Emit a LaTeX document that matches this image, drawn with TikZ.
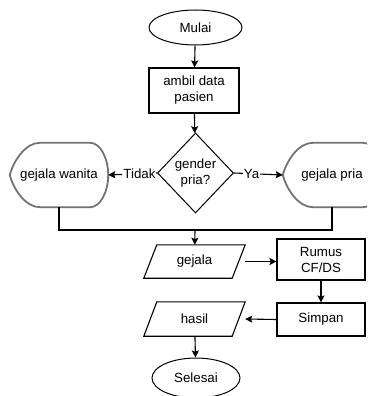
\documentclass[tikz,border=0pt]{standalone}
\usepackage{fontspec}
\setmainfont{Liberation Sans}
\usetikzlibrary{shapes.geometric,arrows.meta,calc}
\tikzset{
  base/.style={font=\fontsize{13.3}{16}\selectfont, align=center, inner sep=0pt},
  term/.style={base, ellipse, draw=black, line width=1pt},
  procbox/.style={base, rectangle, draw=black, line width=1.1pt},
  decis/.style={base, diamond, draw=black, line width=1pt},
  plain/.style={base, rectangle},
  disp/.style={draw=black!55, line width=1.8pt},
  para/.style={draw=black, line width=1.1pt},
  link/.style={draw=black, line width=1.1pt},
  arr/.style={link, -{Stealth[length=7pt,width=7pt,inset=1.2pt]}},
  lbl/.style={font=\fontsize{13.3}{16}\selectfont, fill=white, inner sep=1pt}
}
\newcommand\mydisp[1]{\draw[disp] (#1.west) .. controls +(4,15) and +(-14,0) .. ($(#1.north west)+(30,0)$) -- ($(#1.north east)+(-18,0)$) .. controls +(10,0) and +(0,17) .. (#1.east) .. controls +(0,-17) and +(10,0) .. ($(#1.south east)+(-18,0)$) -- ($(#1.south west)+(30,0)$) .. controls +(-14,0) and +(4,-15) .. (#1.west) -- cycle;}
\newcommand\mypara[1]{\draw[para] (#1.south west) -- ($(#1.north west)+(13,0)$) -- (#1.north east) -- ($(#1.south east)+(-13,0)$) -- cycle;}
\begin{document}
\begin{tikzpicture}[x=1pt,y=1pt]
\clip (0,0) rectangle (367,-396);
\fill[white] (0,0) rectangle (367,-396);
\node[term, minimum width=93pt, minimum height=35pt] (mulai) at (195.5,-27.5) {Mulai};
\node[procbox, minimum width=90pt, minimum height=45pt] (ambil) at (194,-90.5) {ambil data\\pasien};
\node[decis, minimum width=76pt, minimum height=80pt] (gender) at (195.5,-173) {gender\\pria?};
\node[plain, minimum width=98pt, minimum height=64pt] (wanita) at (59,-175) {gejala wanita};
\node[plain, minimum width=98pt, minimum height=64pt] (pria) at (332,-175) {gejala pria};
\mydisp{wanita}
\mydisp{pria}
\coordinate (j) at (195,-230);
\node[plain, minimum width=101pt, minimum height=33pt] (gejala) at (194.5,-261.5) {gejala};
\mypara{gejala}
\node[procbox, minimum width=88pt, minimum height=41pt] (rumus) at (321,-259.5) {Rumus\\CF/DS};
\node[procbox, minimum width=88pt, minimum height=33pt] (simpan) at (321,-319.5) {Simpan};
\node[plain, minimum width=101pt, minimum height=34pt] (hasil) at (194.5,-319) {hasil};
\mypara{hasil}
\node[term, minimum width=88pt, minimum height=40pt] (selesai) at (196,-378) {Selesai};
\draw[arr] (mulai) -- (ambil);
\draw[arr] (ambil) -- (gender);
\draw[arr] (gender.west) -- node[lbl, pos=0.36] {Tidak} (wanita.east);
\draw[arr] (gender.east) -- node[lbl, pos=0.36] {Ya} (pria.west);
\draw[link] (wanita.south) |- (j) -| (pria.south);
\draw[arr] (j) -- (gejala);
\draw[arr] (gejala.east) -- (gejala.east -| rumus.west);
\draw[arr] (rumus) -- (simpan);
\draw[arr] (simpan.west) -- (hasil.east);
\draw[arr] (hasil) -- (selesai);
\end{tikzpicture}
\end{document}
